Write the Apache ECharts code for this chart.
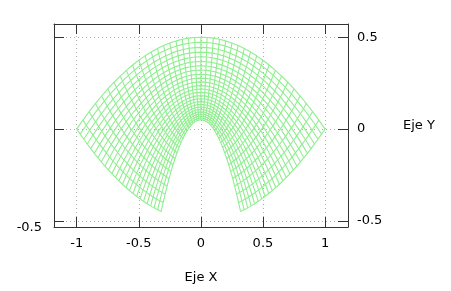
<!DOCTYPE html>
<html style="height: 100%">
<head>
    <meta charset="utf-8">
    <script type="text/javascript" src="https://cdn.jsdelivr.net/npm/echarts@6/dist/echarts.min.js"></script>
</head>
<body style="height: 100%; margin: 0; background: #fff">
    <div id="container" style="width: 451px; height: 291px"></div>

    <script type="text/javascript">
        // parametric mesh: x = u*v, y = (u^2 - v^2)/2
        var uVals = [0.32, 0.348, 0.377, 0.405, 0.433, 0.462, 0.49, 0.518, 0.547, 0.575,
                     0.603, 0.632, 0.66, 0.688, 0.717, 0.745, 0.773, 0.802, 0.83, 0.858,
                     0.887, 0.915, 0.943, 0.972, 1.0];
        var vVals = [-1, -0.95, -0.9, -0.85, -0.8, -0.75, -0.7, -0.65, -0.6, -0.55,
                     -0.5, -0.45, -0.4, -0.35, -0.3, -0.25, -0.2, -0.15, -0.1, -0.05,
                     0, 0.05, 0.1, 0.15, 0.2, 0.25, 0.3, 0.35, 0.4, 0.45,
                     0.5, 0.55, 0.6, 0.65, 0.7, 0.75, 0.8, 0.85, 0.9, 0.95, 1];
        var xTicks = [-1, -0.5, 0, 0.5, 1];
        var yTicks = [-0.5, 0, 0.5];
        var leftTicks = [-0.5];

        var dom = document.getElementById("container");
        var myChart = echarts.init(dom);

        function node(u, v) {
            return [u * v, (u * u - v * v) / 2];
        }

        var series = [];
        var meshStyle = { color: '#90ee90', width: 1.1 };
        uVals.forEach(function (u) {
            series.push({
                type: 'line', showSymbol: false, silent: true,
                data: vVals.map(function (v) { return node(u, v); }),
                lineStyle: meshStyle
            });
        });
        vVals.forEach(function (v) {
            series.push({
                type: 'line', showSymbol: false, silent: true,
                data: uVals.map(function (u) { return node(u, v); }),
                lineStyle: meshStyle
            });
        });

        function only(list) {
            return function (val) {
                for (var i = 0; i < list.length; i++) {
                    if (Math.abs(list[i] - val) < 1e-6) return String(list[i]);
                }
                return '';
            };
        }

        var lineCol = '#333';
        var labelFont = { fontFamily: 'DejaVu Sans', fontSize: 13, color: '#000' };
        var gridLine = { show: true, lineStyle: { color: '#b0b0b0', type: [1, 3], width: 1 } };
        var border = { show: true, onZero: false, lineStyle: { color: lineCol } };
        var tick = { inside: true, length: 10, lineStyle: { color: lineCol } };

        var option = {
            animation: false,
            grid: { left: 54, right: 103, top: 24, bottom: 64 },
            xAxis: [
                {
                    type: 'value', min: -1.183, max: 1.185, splitNumber: 5,
                    position: 'bottom',
                    name: 'Eje X', nameLocation: 'middle', nameGap: 44,
                    nameTextStyle: labelFont,
                    axisLine: border,
                    axisTick: tick,
                    axisLabel: Object.assign({ margin: 10, formatter: only(xTicks) }, labelFont),
                    splitLine: gridLine
                },
                {
                    type: 'value', min: -1.183, max: 1.185, splitNumber: 5,
                    position: 'top',
                    axisLine: border,
                    axisTick: tick,
                    axisLabel: { show: false },
                    splitLine: { show: false }
                }
            ],
            yAxis: [
                {
                    type: 'value', min: -0.533, max: 0.572, splitNumber: 2,
                    position: 'right',
                    name: 'Eje Y', nameLocation: 'middle', nameGap: 55, nameRotate: 0,
                    nameTextStyle: Object.assign({ align: 'left', padding: [6, 0, 0, 0] }, labelFont),
                    axisLine: border,
                    axisTick: tick,
                    axisLabel: Object.assign({ margin: 9, formatter: only(yTicks) }, labelFont),
                    splitLine: gridLine
                },
                {
                    type: 'value', min: -0.533, max: 0.572, splitNumber: 2,
                    position: 'left',
                    axisLine: border,
                    axisTick: tick,
                    axisLabel: Object.assign({ margin: 12, verticalAlign: 'top', formatter: only(leftTicks) }, labelFont),
                    splitLine: { show: false }
                }
            ],
            series: series
        };

        myChart.setOption(option);
    </script>
</body>
</html>
